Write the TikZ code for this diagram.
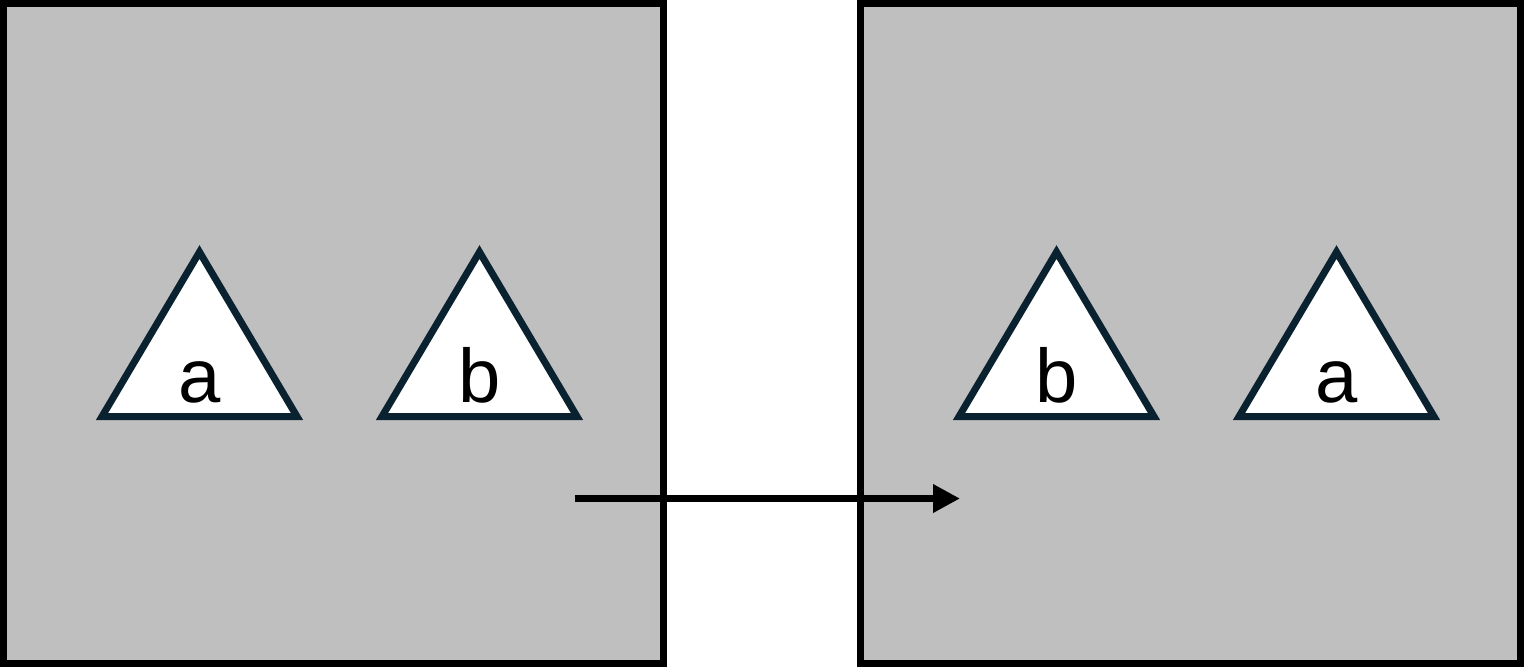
\documentclass[tikz,border=0pt]{standalone}
\usepackage{fontspec}
\setmainfont{Liberation Sans}
\usetikzlibrary{arrows.meta}
\definecolor{boxgray}{RGB}{191,191,191}
\definecolor{triedge}{RGB}{10,34,48}
\tikzset{
  panel/.style={draw=black, fill=boxgray, line width=7pt},
  tri/.style={draw=triedge, fill=white, line width=7pt, line join=miter},
  lbl/.style={anchor=base, inner sep=0pt, font=\fontsize{76}{91}\selectfont},
  flow/.style={line width=7pt, -{Triangle[length=27pt,width=27pt]}}
}
\begin{document}
\begin{tikzpicture}[x=1pt,y=-1pt]
\useasboundingbox (0,0) rectangle (1524,667);
\draw[panel] (3.5,3.5) rectangle (663.5,663.5);
\draw[panel] (860.5,3.5) rectangle (1520.5,663.5);
% left panel triangles
\draw[tri] (199.5,252) -- (297,416.5) -- (102,416.5) -- cycle;
\node[lbl] (la) at (199.5,402) {a};
\draw[tri] (479.5,252) -- (577,416.5) -- (382,416.5) -- cycle;
\node[lbl] (lb) at (479.5,402) {b};
% right panel triangles
\draw[tri] (1056.5,252) -- (1154,416.5) -- (959,416.5) -- cycle;
\node[lbl] (rb) at (1056.5,402) {b};
\draw[tri] (1336.5,252) -- (1434,416.5) -- (1239,416.5) -- cycle;
\node[lbl] (ra) at (1336.5,402) {a};
% arrow
\coordinate (s) at (575,498.5);
\coordinate (e) at (960,498.5);
\draw[flow] (s) -- (e);
\end{tikzpicture}
\end{document}
